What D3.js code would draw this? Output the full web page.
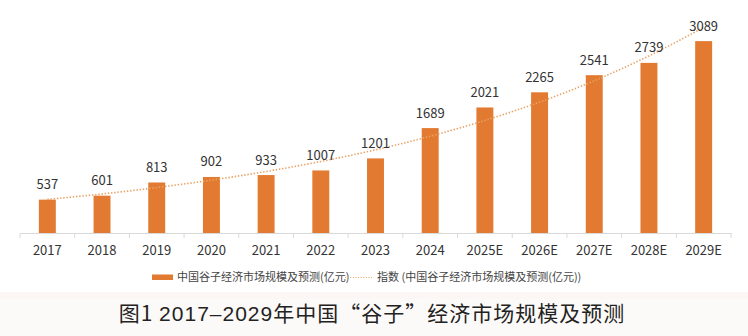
<!DOCTYPE html>
<html>
<head>
<meta charset="utf-8">
<script src="https://cdn.jsdelivr.net/npm/d3@7"></script>
<style>
  html, body { margin: 0; padding: 0; background: #ffffff; }
  svg { display: block; }
  text { font-family: "Noto Sans CJK SC", "Noto Sans", sans-serif; }
</style>
</head>
<body>
<svg id="chart" width="748" height="336"></svg>
<script>
// ---- data ----
const categories = ["2017","2018","2019","2020","2021","2022","2023","2024","2025E","2026E","2027E","2028E","2029E"];
const marketValues = [537, 601, 813, 902, 933, 1007, 1201, 1689, 2021, 2265, 2541, 2739, 3089];
// exponential trendline values
const trendValues = [541, 629, 732, 851, 990, 1151, 1339, 1558, 1812, 2107, 2451, 2851, 3310];
const legendLabels = ["中国谷子经济市场规模及预测(亿元)", "指数 (中国谷子经济市场规模及预测(亿元))"];
const titleParts = ["图1 ", "2017–2029", "年中国“谷子”经济市场规模及预测"];

// ---- drawing ----
const svg = d3.select("#chart");
const W = 748, H = 336;
const barColor = "#E27B31";
const trendColor = "#E8A263";

svg.append("rect").attr("x", 0).attr("y", 0).attr("width", W).attr("height", H).attr("fill", "#ffffff");
svg.append("rect").attr("x", 0).attr("y", 292).attr("width", W).attr("height", H - 292).attr("fill", "#fcfaf8");
svg.append("rect").attr("x", 0).attr("y", 292).attr("width", W).attr("height", 7).attr("fill", "#fcf7f4");

const x = d3.scaleBand()
  .domain(categories)
  .range([20, 731])
  .paddingInner(0.69)
  .paddingOuter(0.345);

const y = d3.scaleLinear().domain([0, 3500]).range([233, 15.6]);

// axis
const axis = d3.axisBottom(x).tickSize(0).tickFormat("");
const axisG = svg.append("g").attr("transform", "translate(0,233)").call(axis);
axisG.select(".domain").attr("stroke", "#d9d9d9").attr("stroke-width", 1);
axisG.selectAll(".tick").remove();

const step = x.step();
const boundaries = d3.range(categories.length + 1).map(i => 20 + i * step);
svg.append("g").selectAll("line").data(boundaries).join("line")
  .attr("x1", d => d).attr("x2", d => d)
  .attr("y1", 233).attr("y2", 238)
  .attr("stroke", "#d9d9d9").attr("stroke-width", 1);

// category labels
svg.append("g").selectAll("text").data(categories).join("text")
  .attr("x", d => x(d) + x.bandwidth() / 2)
  .attr("y", 255)
  .attr("text-anchor", "middle")
  .attr("font-size", 13)
  .attr("fill", "#333")
  .text(d => d);

// bars
svg.append("g").selectAll("rect").data(marketValues).join("rect")
  .attr("x", (d, i) => x(categories[i]))
  .attr("y", d => y(d))
  .attr("width", x.bandwidth())
  .attr("height", d => y(0) - y(d))
  .attr("fill", barColor);

// trend line
const line = d3.line()
  .x((d, i) => x(categories[i]) + x.bandwidth() / 2)
  .y(d => y(d))
  .curve(d3.curveMonotoneX);
svg.append("path")
  .datum(trendValues)
  .attr("d", line)
  .attr("fill", "none")
  .attr("stroke", trendColor)
  .attr("stroke-width", 1.6)
  .attr("stroke-dasharray", "1.4,1.8");

// value labels
svg.append("g").selectAll("text").data(marketValues).join("text")
  .attr("x", (d, i) => x(categories[i]) + x.bandwidth() / 2)
  .attr("y", d => y(d) - 10.5)
  .attr("text-anchor", "middle")
  .attr("font-size", 13)
  .attr("fill", "#333")
  .text(d => d);

// legend
const lg = svg.append("g");
lg.append("rect").attr("x", 152).attr("y", 274.5).attr("width", 21).attr("height", 5.5).attr("fill", barColor);
lg.append("text").attr("x", 177).attr("y", 281).attr("font-size", 11).attr("fill", "#444").text(legendLabels[0]);
lg.append("line").attr("x1", 345).attr("x2", 372).attr("y1", 277.5).attr("y2", 277.5)
  .attr("stroke", trendColor).attr("stroke-width", 1.2).attr("stroke-dasharray", "1,1.6");
lg.append("text").attr("x", 377).attr("y", 281).attr("font-size", 11).attr("fill", "#444").text(legendLabels[1]);

// title
const title = svg.append("text")
  .attr("x", 372).attr("y", 321)
  .attr("text-anchor", "middle")
  .attr("font-size", 21)
  .attr("font-weight", 400)
  .attr("letter-spacing", 1)
  .attr("fill", "#222");
title.selectAll("tspan").data(titleParts).join("tspan")
  .style("font-family", (d, i) => i === 1 ? "'Liberation Sans', sans-serif" : "'Noto Sans CJK SC', sans-serif")
  .text(d => d);
</script>
</body>
</html>
